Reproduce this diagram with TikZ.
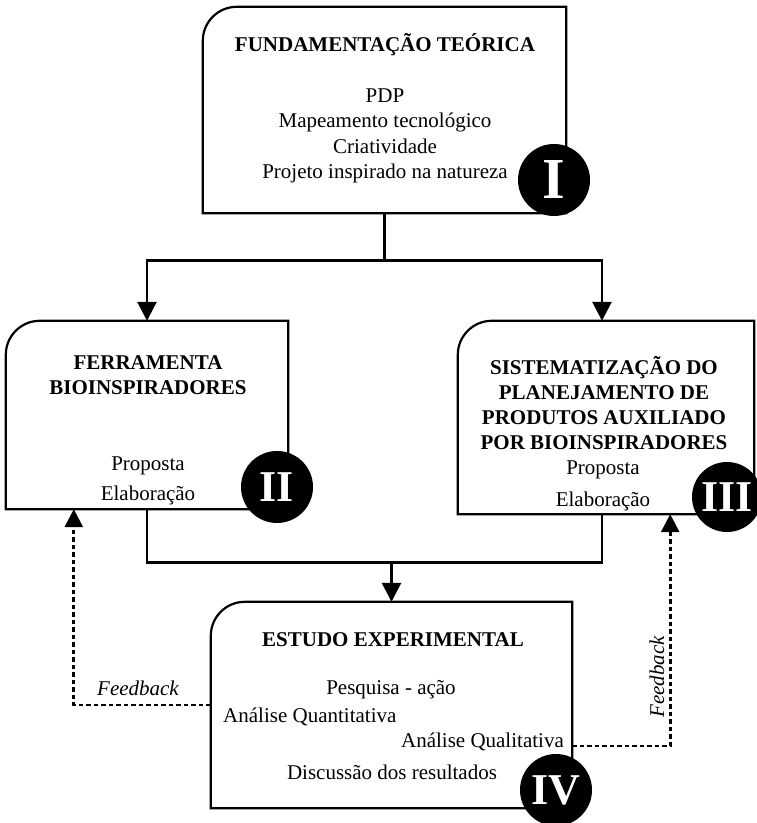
\documentclass[tikz,border=0pt]{standalone}
\usepackage{fontspec}
\setmainfont{Liberation Serif}
\usetikzlibrary{positioning}
\usetikzlibrary{arrows.meta}
\usetikzlibrary{calc}

\begin{document}
\begin{tikzpicture}[x=1pt, y=1pt,
    frame/.style={minimum width=#1, inner sep=0pt},
    txt/.style={align=center, inner sep=1pt, font=\fontsize{21}{25}\selectfont},
    ttl/.style={align=center, inner sep=1pt, font=\fontsize{21}{25}\selectfont\bfseries},
    num/.style={circle, fill=black, text=white, inner sep=0pt, minimum size=72pt, font=\fontsize{44}{44}\selectfont\bfseries},
    conn/.style={line width=2.8pt, -{Triangle[width=19pt,length=19pt]}},
    fb/.style={line width=2.8pt, dash pattern=on 4.5pt off 3pt, -{Triangle[width=18pt,length=18pt]}},
    boxl/.style={line width=2.2pt}]
    \useasboundingbox (0,0) rectangle (757,823);

    % Four stage boxes
    \node[frame=363pt, minimum height=206pt] (fund) at (384.5,713) {};
    \node[frame=282pt, minimum height=188pt] (ferr) at (147,408) {};
    \node[frame=296pt, minimum height=193pt] (sist) at (606,405.5) {};
    \node[frame=361pt, minimum height=206pt] (estu) at (391.5,118) {};

    % Outlines with one rounded corner
    \foreach \b in {fund,ferr,sist,estu}
        \draw[boxl] (\b.south west) -- ([yshift=-34pt]\b.north west)
            arc[start angle=180, end angle=90, radius=34pt]
            -- (\b.north east) -- (\b.south east) -- cycle;

    % Stage I
    \node[ttl] (fundT) at (385,778) {FUNDAMENTAÇÃO TEÓRICA};
    \node[txt, font=\fontsize{21}{25.5}\selectfont] (fundB) at (385,687) {PDP\\Mapeamento tecnológico\\Criatividade\\Projeto inspirado na natureza};

    % Stage II
    \node[ttl] (ferrT) at (148,447.5) {FERRAMENTA\\BIOINSPIRADORES};
    \node[txt, font=\fontsize{21}{30}\selectfont] (ferrB) at (148,342) {Proposta\\Elaboração};

    % Stage III
    \node[ttl] (sistT) at (604,419.5) {SISTEMATIZAÇÃO DO\\PLANEJAMENTO DE\\PRODUTOS AUXILIADO\\POR BIOINSPIRADORES};
    \node[txt, font=\fontsize{21}{32}\selectfont] (sistB) at (603,337) {Proposta\\Elaboração};

    % Stage IV
    \node[ttl] (estuT) at (393,183) {ESTUDO EXPERIMENTAL};
    \node[txt] (pesq) at (391,133) {Pesquisa - ação};
    \node[txt, anchor=west] (quant) at (222,106) {Análise Quantitativa};
    \node[txt, anchor=east] (qual) at (565,81) {Análise Qualitativa};
    \node[txt] (disc) at (392,51) {Discussão dos resultados};

    % Solid connectors
    \coordinate (split) at ($(fund.south)+(0,-47)$);
    \coordinate (join) at ($(estu.north)+(0,39)$);
    \draw[line width=2.8pt] (fund.south) -- (split);
    \draw[conn] (split) -| (ferr.north);
    \draw[conn] (split) -| ([xshift=-4pt]sist.north);
    \draw[line width=2.8pt] (ferr.south) |- (join) -| ([xshift=-4pt]sist.south);
    \draw[conn] (join) -- (estu.north);

    % Feedback loops
    \draw[fb] (estu.west) -| ([xshift=68pt]ferr.south west);
    \draw[fb] ([yshift=-41pt]estu.east) -| ([xshift=-84pt]sist.south east);
    \node[txt, font=\fontsize{21}{25}\selectfont\itshape] (fbl) at (138,135) {Feedback};
    \node[txt, rotate=90, font=\fontsize{21}{25}\selectfont\itshape] (fbr) at (657,146) {Feedback};

    % Stage numbers
    \node[num, font=\fontsize{58}{58}\selectfont\bfseries] (n1) at (554,643) {I};
    \node[num] (n2) at (277,336) {II};
    \node[num, minimum size=70pt] (n3) at (727,326) {III};
    \node[num] (n4) at (556,33) {IV};
\end{tikzpicture}
\end{document}
